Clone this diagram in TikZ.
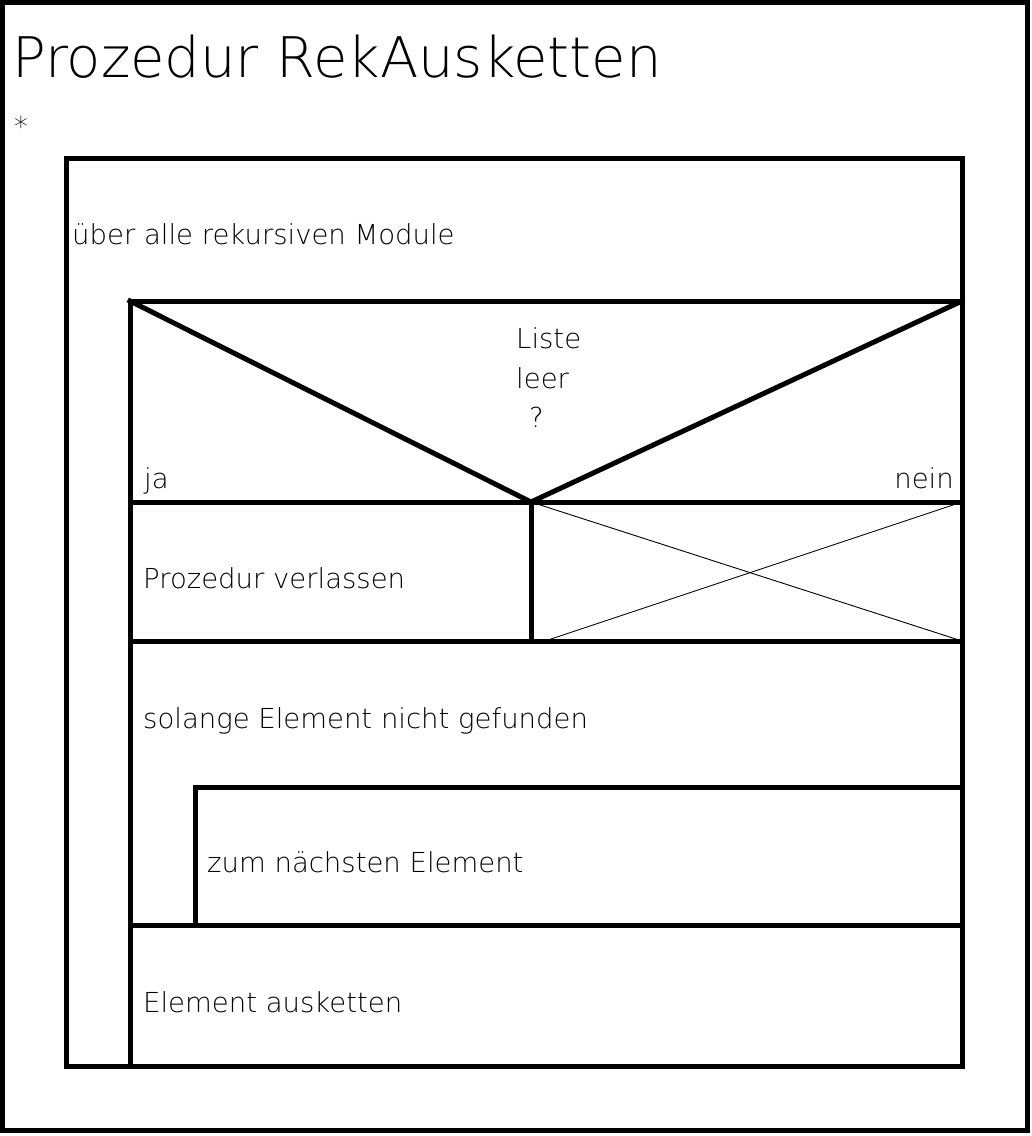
\documentclass[tikz,border=0pt]{standalone}
\usepackage{fontspec}
\setmainfont{DejaVu Sans ExtraLight}
\usetikzlibrary{positioning}

\begin{document}
\begin{tikzpicture}[
  x=1pt, y=-1pt,
  frame/.style={line width=5pt, line cap=rect},
  crossline/.style={line width=0.9pt},
  txt/.style={anchor=base west, inner sep=0pt, font=\fontsize{27.5}{33}\selectfont},
  head/.style={anchor=base west, inner sep=0pt, font=\fontsize{56}{67}\selectfont}
]
  \useasboundingbox (0,0) rectangle (1032,1136);

  % Outer frame and title
  \coordinate (frameNW) at (2,2);
  \coordinate (frameSE) at (1027,1130);
  \draw[frame] (frameNW) rectangle (frameSE);
  \node[head] (title) at (12,77) {Prozedur RekAusketten};
  \node[txt] (star) at (14,136) {*};

  % Loop over all modules
  \coordinate (loopNW) at (66,158);
  \coordinate (loopSE) at (962,1066);
  \coordinate (bodyNW) at (130,301);
  \draw[frame] (loopNW) rectangle (loopSE);
  \draw[frame] (bodyNW) -- (bodyNW |- loopSE);
  \draw[frame] (bodyNW) -- (bodyNW -| loopSE);
  \node[txt] (loophead) at (72,244) {über alle rekursiven Module};

  % Decision
  \coordinate (tip) at (531,502);
  \coordinate (decSW) at (130,502);
  \coordinate (rowSW) at (130,641);
  \draw[frame, line join=miter] (bodyNW) -- (tip) -- (bodyNW -| loopSE);
  \draw[frame] (decSW) -- (decSW -| loopSE);
  \node[txt] (cond1) at (516,348) {Liste};
  \node[txt] (cond2) at (516,388) {leer};
  \node[txt] (cond3) at (529,427) {?};
  \node[txt] (yes) at (144,488) {ja};
  \node[txt, anchor=base east] (no) at (954,488) {nein};

  % Branches
  \draw[frame] (tip) -- (tip |- rowSW);
  \draw[frame] (rowSW) -- (rowSW -| loopSE);
  \node[txt] (leave) at (143,588) {Prozedur verlassen};
  \draw[crossline] (tip) -- (rowSW -| loopSE);
  \draw[crossline] ([xshift=14pt]tip |- rowSW) -- (decSW -| loopSE);

  % While loop
  \coordinate (whileSW) at (130,925);
  \coordinate (innerNW) at (195,787);
  \node[txt] (whilehead) at (143,728) {solange Element nicht gefunden};
  \draw[frame] (innerNW) -- (innerNW -| loopSE);
  \draw[frame] (innerNW) -- (innerNW |- whileSW);
  \draw[frame] (whileSW) -- (whileSW -| loopSE);
  \node[txt] (next) at (207,872) {zum nächsten Element};

  % Last statement
  \node[txt] (unlink) at (143,1012) {Element ausketten};
\end{tikzpicture}
\end{document}
